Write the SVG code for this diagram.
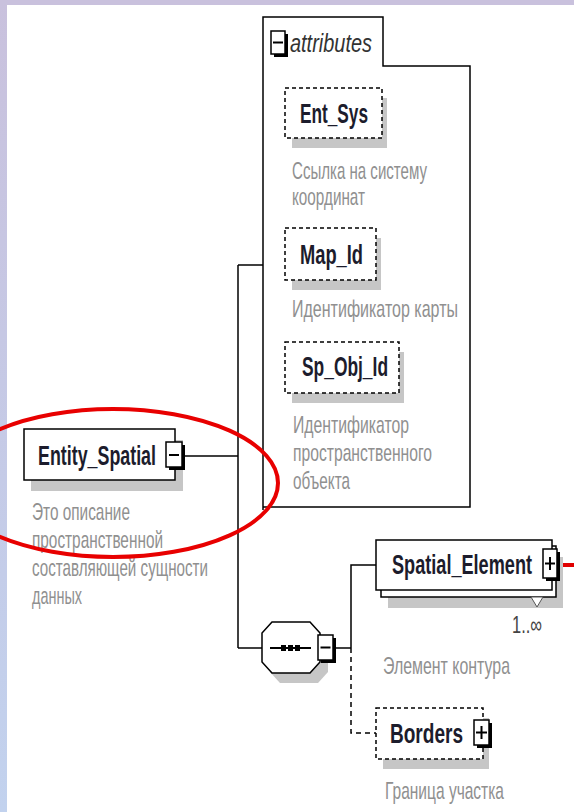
<svg xmlns="http://www.w3.org/2000/svg" width="574" height="812" viewBox="0 0 574 812">
<style>
.bg{fill:#ffffff}
.node{fill:#ffffff;stroke:#000;stroke-width:1.5}
.dash{fill:#ffffff;stroke:#000;stroke-width:1.5;stroke-dasharray:4 3}
.shadow{fill:#c6c6c6;stroke:none}
.ic{fill:#ffffff;stroke:#000;stroke-width:1.5}
.ics{fill:#000}
.sym{stroke:#000;stroke-width:2;fill:none}
.conn{stroke:#000;stroke-width:1.5;fill:none}
.cdash{stroke:#000;stroke-width:1.5;fill:none;stroke-dasharray:5 4}
.lbl{font-family:"Liberation Sans",Arial,sans-serif;font-weight:bold;font-size:18px;fill:#1c1c2c}
.desc{font-family:"Liberation Sans",Arial,sans-serif;font-size:16px;fill:#909090}
.att{font-family:"Liberation Sans",Arial,sans-serif;font-style:italic;font-size:18px;fill:#333}
.occ{font-family:"Liberation Sans",Arial,sans-serif;font-size:16px;fill:#444}
</style>
<defs>
<linearGradient id="side" x1="0" y1="0" x2="0" y2="1">
<stop offset="0" stop-color="#c9c1dd"/>
<stop offset="1" stop-color="#c2d2ee"/>
</linearGradient>
</defs>
<rect x="0" y="0" width="574" height="812" class="bg"/>
<rect x="0" y="0" width="574" height="5" fill="#c9c1dd"/>
<rect x="0" y="0" width="7" height="812" fill="url(#side)"/>

<g id="connectors">
<line class="conn" x1="184" y1="456" x2="238" y2="456"/>
<line class="conn" x1="238" y1="265" x2="238" y2="648"/>
<line class="conn" x1="238" y1="265" x2="263" y2="265"/>
<line class="conn" x1="238" y1="648" x2="262" y2="648"/>
<line class="conn" x1="336" y1="648" x2="351" y2="648"/>
<polyline class="conn" points="351,648 351,565 376,565"/>
<polyline class="cdash" points="351,648 351,733 376,733"/>
<line x1="560" y1="565" x2="574" y2="565" stroke="#e00000" stroke-width="4"/>
</g>

<g id="attributes">
<path class="node" d="M263,510 L263,17 L383,17 L383,66 L470,66 L470,507 L263,507"/>
<rect class="ics" x="274" y="34" width="14" height="23"/>
<rect class="ic" x="271" y="31" width="14" height="23"/>
<line class="sym" x1="273" y1="42.5" x2="283" y2="42.5"/>
<text class="att" transform="translate(290,52) scale(1,1.45)" textLength="82" lengthAdjust="spacingAndGlyphs">attributes</text>
</g>

<g id="Ent_Sys">
<rect class="shadow" x="292" y="98" width="95" height="50"/>
<rect class="dash" x="285" y="88" width="97" height="50"/>
<text class="lbl" transform="translate(300,123) scale(1,1.55)" textLength="68" lengthAdjust="spacingAndGlyphs">Ent_Sys</text>
<text class="desc" transform="translate(292,179) scale(1,1.5)" textLength="135" lengthAdjust="spacingAndGlyphs">Ссылка на систему</text>
<text class="desc" transform="translate(292,205) scale(1,1.5)" textLength="73" lengthAdjust="spacingAndGlyphs">координат</text>
</g>

<g id="Map_Id">
<rect class="shadow" x="292" y="238" width="89" height="52"/>
<rect class="dash" x="285" y="228" width="91" height="52"/>
<text class="lbl" transform="translate(300,264) scale(1,1.55)" textLength="63" lengthAdjust="spacingAndGlyphs">Map_Id</text>
<text class="desc" transform="translate(292,317) scale(1,1.5)" textLength="166" lengthAdjust="spacingAndGlyphs">Идентификатор карты</text>
</g>

<g id="Sp_Obj_Id">
<rect class="shadow" x="292" y="352" width="112" height="51"/>
<rect class="dash" x="285" y="342" width="114" height="51"/>
<text class="lbl" transform="translate(302,376) scale(1,1.55)" textLength="86" lengthAdjust="spacingAndGlyphs">Sp_Obj_Id</text>
<text class="desc" transform="translate(293,433) scale(1,1.5)" textLength="116" lengthAdjust="spacingAndGlyphs">Идентификатор</text>
<text class="desc" transform="translate(293,461) scale(1,1.5)" textLength="139" lengthAdjust="spacingAndGlyphs">пространственного</text>
<text class="desc" transform="translate(293,489) scale(1,1.5)" textLength="57" lengthAdjust="spacingAndGlyphs">объекта</text>
</g>

<g id="Entity_Spatial">
<rect class="shadow" x="31" y="440" width="152" height="51"/>
<rect class="node" x="24" y="429" width="151" height="51"/>
<rect class="ics" x="169" y="445" width="16" height="25"/>
<rect class="ic" x="166" y="442" width="16" height="25"/>
<line class="sym" x1="169" y1="455" x2="179" y2="455"/>
<text class="lbl" transform="translate(38,465) scale(1,1.55)" textLength="118" lengthAdjust="spacingAndGlyphs">Entity_Spatial</text>
<text class="desc" transform="translate(32,520) scale(1,1.5)" textLength="98" lengthAdjust="spacingAndGlyphs">Это описание</text>
<text class="desc" transform="translate(32,548) scale(1,1.5)" textLength="131" lengthAdjust="spacingAndGlyphs">пространственной</text>
<text class="desc" transform="translate(32,576) scale(1,1.5)" textLength="176" lengthAdjust="spacingAndGlyphs">составляющей сущности</text>
<text class="desc" transform="translate(32,604) scale(1,1.5)" textLength="50" lengthAdjust="spacingAndGlyphs">данных</text>
</g>

<g id="sequence">
<polygon class="shadow" points="280,632 318,632 328,643 328,672 318,683 280,683 270,672 270,643"/>
<polygon class="node" points="272,622 310,622 320,633 320,662 310,673 272,673 262,662 262,633"/>
<line class="sym" x1="270" y1="648" x2="311" y2="648" stroke-width="1.5"/>
<rect x="281" y="645" width="5" height="6" fill="#000"/>
<rect x="288" y="645" width="5" height="6" fill="#000"/>
<rect x="295" y="645" width="5" height="6" fill="#000"/>
<rect class="ics" x="321" y="638" width="15" height="25"/>
<rect class="ic" x="318" y="635" width="15" height="25"/>
<line class="sym" x1="320.5" y1="647.5" x2="330.5" y2="647.5"/>
</g>

<g id="Spatial_Element">
<rect class="shadow" x="388" y="557" width="175" height="51"/>
<rect class="node" x="381" y="546" width="175" height="51"/>
<rect class="node" x="376" y="540" width="176" height="50"/>
<rect class="ics" x="546" y="552" width="14" height="29"/>
<rect class="ic" x="543" y="549" width="14" height="29"/>
<line class="sym" x1="545" y1="563.5" x2="555" y2="563.5"/>
<line class="sym" x1="550" y1="557" x2="550" y2="570"/>
<text class="lbl" transform="translate(392,574) scale(1,1.55)" textLength="140" lengthAdjust="spacingAndGlyphs">Spatial_Element</text>
<polygon points="531,597 543,597 537,607" fill="#fff" stroke="#555" stroke-width="1"/>
<text class="occ" transform="translate(512,633) scale(1,1.5)" textLength="30" lengthAdjust="spacingAndGlyphs">1..∞</text>
<text class="desc" transform="translate(383,674) scale(1,1.5)" textLength="127" lengthAdjust="spacingAndGlyphs">Элемент контура</text>
</g>

<g id="Borders">
<rect class="shadow" x="383" y="718" width="106" height="51"/>
<rect class="dash" x="376" y="708" width="107" height="51"/>
<rect class="ics" x="477" y="723" width="15" height="25"/>
<rect class="ic" x="474" y="720" width="15" height="25"/>
<line class="sym" x1="476" y1="732.5" x2="487" y2="732.5"/>
<line class="sym" x1="481.5" y1="726" x2="481.5" y2="739"/>
<text class="lbl" transform="translate(390,743) scale(1,1.55)" textLength="73" lengthAdjust="spacingAndGlyphs">Borders</text>
<text class="desc" transform="translate(385,799) scale(1,1.5)" textLength="119" lengthAdjust="spacingAndGlyphs">Граница участка</text>
</g>

<ellipse cx="113" cy="483" rx="165" ry="74" fill="none" stroke="#e80000" stroke-width="4"/>
</svg>
